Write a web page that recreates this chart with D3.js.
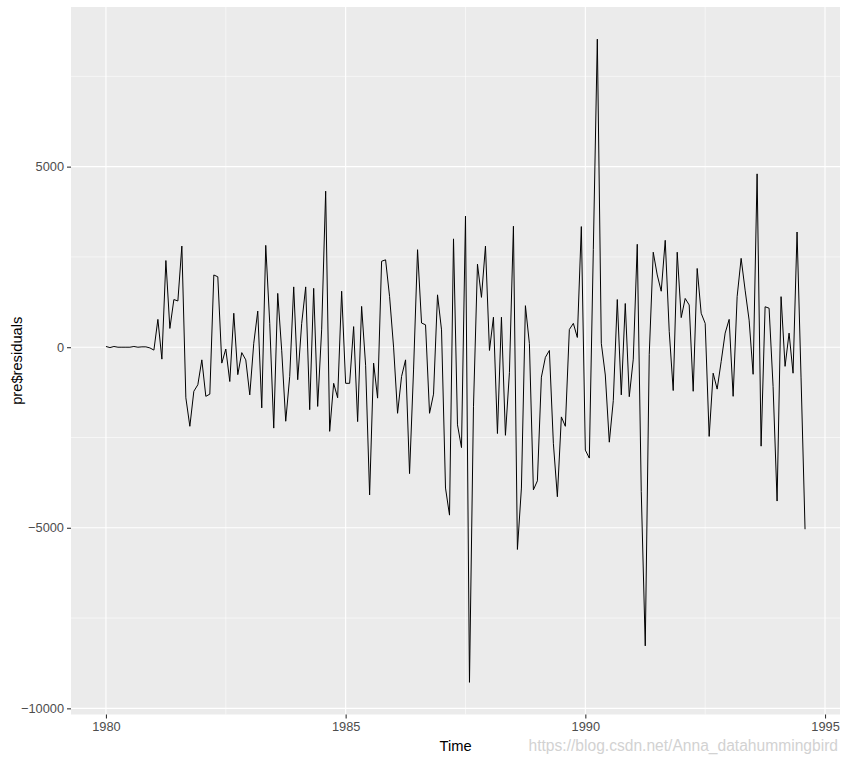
<!DOCTYPE html>
<html>
<head>
<meta charset="utf-8">
<script src="https://cdn.jsdelivr.net/npm/d3@7"></script>
<style>
  html, body { margin: 0; padding: 0; background: #ffffff; }
  svg { display: block; }
  text { font-family: "Liberation Sans", Arial, sans-serif; }
</style>
</head>
<body>
<svg id="chart" width="848" height="761"></svg>
<script>
// ---- data (monthly residuals, starting Jan 1980) ----
const startYear = 1980;
const frequency = 12;
const residuals = [
  20, -10, 20, 0, 0, 0, 0, 20, 0, 10, 10, -20,
  -80, 770, -330, 2400, 520, 1320, 1280, 2800, -1400, -2190, -1220, -1040,
  -350, -1360, -1300, 2000, 1950, -440, -50, -950, 940, -760, -150, -350,
  -1320, 110, 1000, -1680, 2820, 660, -2240, 1490, -100, -2050, -810, 1670,
  -900, 660, 1670, -1730, 1630, -1640, 500, 4320, -2330, -1000, -1400, 1550,
  -1000, -1000, 570, -2060, 1130, -500, -4090, -440, -1410, 2380, 2420, 1400,
  0, -1830, -810, -350, -3500, -630, 2700, 670, 620, -1830, -1300, 1450,
  480, -3900, -4650, 3000, -2150, -2780, 3630, -9280, -1650, 2300, 1380, 2800,
  -90, 830, -2390, 830, -2440, -700, 3350, -5600, -3900, 1150, 100, -3950,
  -3700, -830, -280, -90, -2660, -4140, -1930, -2190, 490, 660, 270, 3340,
  -2850, -3070, 2700, 8530, 110, -770, -2630, -1480, 1320, -1320, 1210, -1370,
  -330, 2850, -4000, -8270, -200, 2630, 2000, 1550, 2960, 440, -1200, 2630,
  820, 1350, 1170, -1220, 2180, 940, 660, -2470, -720, -1160, -400, 390,
  770, -1360, 1400, 2460, 1580, 750, -750, 4800, -2740, 1120, 1080, -1090,
  -4260, 1400, -530, 390, -720, 3190, -850, -5040
];
const xTicks = [1980, 1985, 1990, 1995];
const xMinor = [1982.5, 1987.5, 1992.5];
const yTicks = [-10000, -5000, 0, 5000];
const yMinor = [-7500, -2500, 2500, 7500];
const xTitle = "Time";
const yTitle = "pre$residuals";
const watermark = "https://blog.csdn.net/Anna_datahummingbird";

const series = residuals.map((v, i) => ({ t: startYear + i / frequency, v: v }));

// ---- layout ----
const panel = { left: 71, right: 840, top: 7, bottom: 714.5 };
const svg = d3.select("#chart");

function expand(ext, m) {
  const r = ext[1] - ext[0];
  return [ext[0] - r * m, ext[1] + r * m];
}
const x = d3.scaleLinear()
  .domain(expand(d3.extent(series, d => d.t), 0.05))
  .range([panel.left, panel.right]);
const y = d3.scaleLinear()
  .domain(expand(d3.extent(series, d => d.v), 0.05))
  .range([panel.bottom, panel.top]);

// panel background
svg.append("rect")
  .attr("x", panel.left).attr("y", panel.top)
  .attr("width", panel.right - panel.left)
  .attr("height", panel.bottom - panel.top)
  .attr("fill", "#EBEBEB");

const grid = svg.append("g");
// minor grid
grid.selectAll("line.ymin").data(yMinor).enter().append("line")
  .attr("x1", panel.left).attr("x2", panel.right)
  .attr("y1", d => y(d)).attr("y2", d => y(d))
  .attr("stroke", "#ffffff").attr("stroke-width", 0.55);
grid.selectAll("line.xmin").data(xMinor).enter().append("line")
  .attr("y1", panel.top).attr("y2", panel.bottom)
  .attr("x1", d => x(d)).attr("x2", d => x(d))
  .attr("stroke", "#ffffff").attr("stroke-width", 0.55);
// major grid
grid.selectAll("line.ymaj").data(yTicks).enter().append("line")
  .attr("x1", panel.left).attr("x2", panel.right)
  .attr("y1", d => y(d)).attr("y2", d => y(d))
  .attr("stroke", "#ffffff").attr("stroke-width", 1.1);
grid.selectAll("line.xmaj").data(xTicks).enter().append("line")
  .attr("y1", panel.top).attr("y2", panel.bottom)
  .attr("x1", d => x(d)).attr("x2", d => x(d))
  .attr("stroke", "#ffffff").attr("stroke-width", 1.1);

// series line
const line = d3.line().x(d => x(d.t)).y(d => y(d.v));
svg.append("path")
  .datum(series)
  .attr("d", line)
  .attr("fill", "none")
  .attr("stroke", "#000000")
  .attr("stroke-width", 1)
  .attr("stroke-linejoin", "round");

// axes
const xAxis = d3.axisBottom(x).tickValues(xTicks).tickFormat(d3.format("d"))
  .tickSizeInner(4).tickSizeOuter(0).tickPadding(3);
const gx = svg.append("g").attr("transform", `translate(0,${panel.bottom})`).call(xAxis);
gx.select(".domain").remove();
gx.selectAll(".tick line").attr("stroke", "#333333").attr("stroke-width", 1.1);
gx.selectAll(".tick text").attr("fill", "#4D4D4D")
  .style("font-size", "12.8px").style("font-family", "'Liberation Sans', Arial, sans-serif");

const yAxis = d3.axisLeft(y).tickValues(yTicks).tickFormat(d3.format("d"))
  .tickSizeInner(4).tickSizeOuter(0).tickPadding(3);
const gy = svg.append("g").attr("transform", `translate(${panel.left},0)`).call(yAxis);
gy.select(".domain").remove();
gy.selectAll(".tick line").attr("stroke", "#333333").attr("stroke-width", 1.1);
gy.selectAll(".tick text").attr("fill", "#4D4D4D")
  .style("font-size", "12.8px").style("font-family", "'Liberation Sans', Arial, sans-serif");

// titles
svg.append("text")
  .attr("x", (panel.left + panel.right) / 2)
  .attr("y", 751)
  .attr("text-anchor", "middle")
  .attr("fill", "#000000")
  .style("font-size", "14.7px")
  .text(xTitle);

svg.append("text")
  .attr("transform", `translate(22,${(panel.top + panel.bottom) / 2}) rotate(-90)`)
  .attr("text-anchor", "middle")
  .attr("fill", "#000000")
  .style("font-size", "14.7px")
  .text(yTitle);

// watermark
svg.append("text")
  .attr("x", 838)
  .attr("y", 751)
  .attr("text-anchor", "end")
  .attr("fill", "#D2D2D2")
  .style("font-size", "15.6px")
  .text(watermark);
</script>
</body>
</html>
